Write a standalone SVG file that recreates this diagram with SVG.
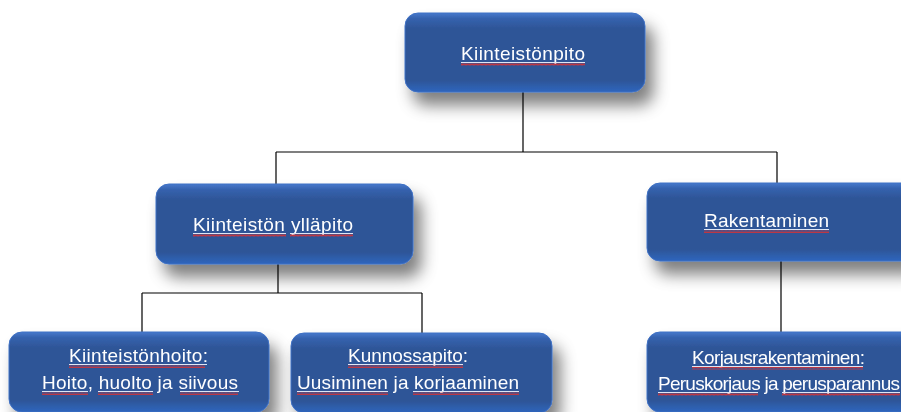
<svg xmlns="http://www.w3.org/2000/svg" width="901" height="412" viewBox="0 0 901 412">
<defs>
<linearGradient id="bg" x1="0" y1="0" x2="0" y2="1">
<stop offset="0" stop-color="#4779CC"/>
<stop offset="0.07" stop-color="#3562AE"/>
<stop offset="0.2" stop-color="#2E5597"/>
<stop offset="0.85" stop-color="#2E5597"/>
<stop offset="1" stop-color="#2F66BE"/>
</linearGradient>
<filter id="sh" x="-15%" y="-30%" width="140%" height="180%">
<feGaussianBlur in="SourceAlpha" stdDeviation="8"/>
<feOffset dx="8" dy="13" result="b"/>
<feFlood flood-color="#000" flood-opacity="0.5"/>
<feComposite in2="b" operator="in"/>
<feMerge><feMergeNode/><feMergeNode in="SourceGraphic"/></feMerge>
</filter>
<pattern id="wavy" width="4" height="3" patternUnits="userSpaceOnUse">
<path d="M0 2.5 L1 0.5 L2 2.5 L3 0.5 L4 2.5" fill="none" stroke="#E03030" stroke-width="0.8"/>
</pattern>
</defs>
<style>
.box{fill:url(#bg);stroke:#3E70C4;stroke-width:1}
.t{font-family:"Liberation Sans",Arial,sans-serif;font-size:19px;fill:#FFFFFF}
.c{stroke:#000;stroke-width:1.2;fill:none}
.ul{stroke:#DDE6F5;stroke-width:1;fill:none}
.sq{fill:url(#wavy)}
</style>
<g id="connectors">
<path class="c" d="M523 92 V152 M276 152 H777 M276 152 V184 M777 152 V183"/>
<path class="c" d="M278 264 V293 M142 293 H422 M142 293 V332 M422 293 V333"/>
<path class="c" d="M781 261 V332"/>
</g>
<g id="n-kiinteistonpito" filter="url(#sh)">
<rect class="box" x="405" y="13" width="240" height="79" rx="13"/>
<text class="t" x="461" y="60" textLength="124">Kiinteistönpito</text>
<path class="ul" d="M461 62.5 H585"/>
<rect class="sq" x="461" y="63" width="124" height="3"/>
</g>
<g id="n-yllapito" filter="url(#sh)">
<rect class="box" x="156" y="184" width="257" height="80" rx="13"/>
<text class="t" x="193" y="231" textLength="160">Kiinteistön ylläpito</text>
<path class="ul" d="M193 233.5 H286 M290 233.5 H353"/>
<rect class="sq" x="193" y="234" width="93" height="3"/>
<rect class="sq" x="290" y="234" width="63" height="3"/>
</g>
<g id="n-rakentaminen" filter="url(#sh)">
<rect class="box" x="647" y="183" width="270" height="78" rx="13"/>
<text class="t" x="704" y="227" textLength="125">Rakentaminen</text>
<path class="ul" d="M704 229.5 H829"/>
<rect class="sq" x="704" y="230" width="125" height="3"/>
</g>
<g id="n-kiinteistonhoito" filter="url(#sh)">
<rect class="box" x="9" y="332" width="260" height="80" rx="13"/>
<text class="t" x="69" y="362" textLength="139">Kiinteistönhoito:</text>
<text class="t" x="42" y="389" textLength="196">Hoito, huolto ja siivous</text>
<path class="ul" d="M69 364.5 H207 M42 391.5 H88 M98 391.5 H153 M180 391.5 H239"/>
<rect class="sq" x="69" y="365" width="136" height="3"/>
<rect class="sq" x="42" y="392" width="46" height="3"/>
<rect class="sq" x="98" y="392" width="55" height="3"/>
<rect class="sq" x="180" y="392" width="58" height="3"/>
</g>
<g id="n-kunnossapito" filter="url(#sh)">
<rect class="box" x="291" y="333" width="261" height="80" rx="13"/>
<text class="t" x="348" y="362" textLength="120">Kunnossapito:</text>
<text class="t" x="297" y="389" textLength="222">Uusiminen ja korjaaminen</text>
<path class="ul" d="M348 364.5 H463 M297 391.5 H388 M413 391.5 H519"/>
<rect class="sq" x="348" y="365" width="115" height="3"/>
<rect class="sq" x="297" y="392" width="91" height="3"/>
<rect class="sq" x="413" y="392" width="106" height="3"/>
</g>
<g id="n-korjausrakentaminen" filter="url(#sh)">
<rect class="box" x="647" y="332" width="270" height="80" rx="13"/>
<text class="t" x="692" y="364" textLength="173">Korjausrakentaminen:</text>
<text class="t" x="658" y="390" textLength="242">Peruskorjaus ja perusparannus</text>
<path class="ul" d="M692 366.5 H863 M658 392.5 H758 M782 392.5 H900"/>
<rect class="sq" x="692" y="367" width="171" height="3"/>
<rect class="sq" x="658" y="393" width="100" height="3"/>
<rect class="sq" x="782" y="393" width="118" height="3"/>
</g>
</svg>
